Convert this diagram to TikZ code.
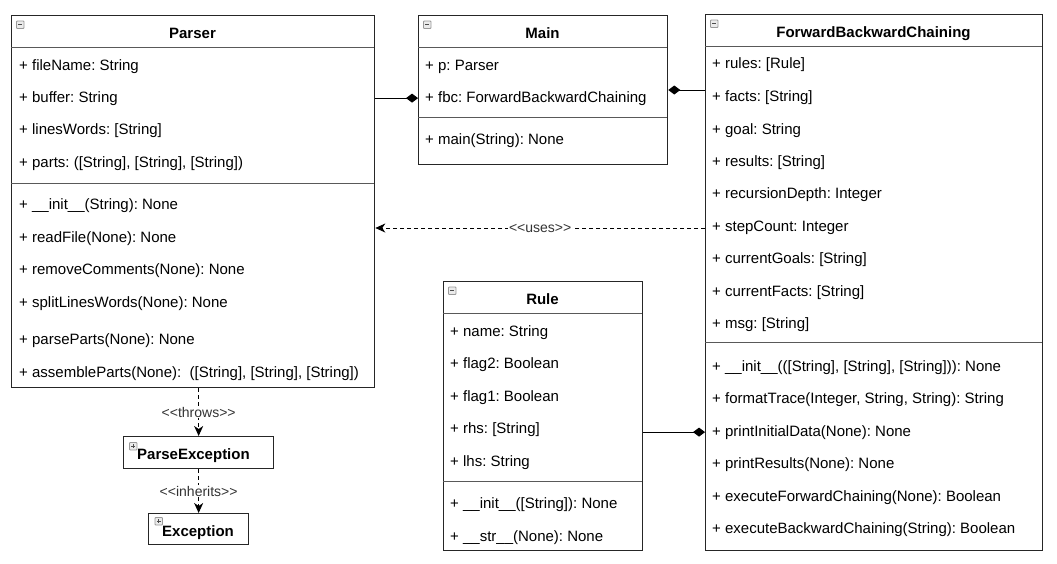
\documentclass[tikz,border=0pt]{standalone}
\usepackage{fontspec}
\setmainfont{Liberation Sans}
\usetikzlibrary{arrows.meta}
% guillemet-free stereotype brackets
\newcommand{\stereo}[1]{<\kern0pt<#1>\kern0pt>}
\begin{document}
\frenchspacing
\begin{tikzpicture}[x=1pt,y=-1pt,
  classbox/.style={draw=black!85, line width=1.3pt, fill=white, rectangle, inner sep=0pt, anchor=north west},
  divider/.style={draw=black!65, line width=1pt},
  row/.style={anchor=base west, inner sep=0pt, yshift=-6pt, font=\fontsize{15}{18}\selectfont},
  title/.style={anchor=base, inner sep=0pt, yshift=-6pt, font=\fontsize{15}{18}\selectfont\bfseries},
  lbl/.style={fill=white, inner sep=1pt, text=black!80, font=\fontsize{14}{16}\selectfont},
  dep/.style={draw=black, line width=1pt, dash pattern=on 4pt off 3pt, -{Stealth[length=10pt,width=9pt,inset=3pt]}},
  comp/.style={draw=black, line width=1pt, -{Diamond[length=12pt,width=9pt]}},
  minusicon/.pic={
    \draw[draw=black!40, fill=black!8, line width=0.8pt, rounded corners=0.8pt] (0,0) rectangle (7.5,7.5);
    \draw[black!70, line width=1.1pt] (1.8,3.75) -- (5.7,3.75);},
  plusicon/.pic={
    \draw[draw=black!40, fill=black!8, line width=0.8pt, rounded corners=0.8pt] (0,0) rectangle (7.5,7.5);
    \draw[black!70, line width=1.1pt] (1.8,3.75) -- (5.7,3.75) (3.75,1.8) -- (3.75,5.7);},
]
\useasboundingbox (0,0) rectangle (1057,563);

% ---------- class boxes ----------
\node[classbox, minimum width=363pt, minimum height=372pt] (parser) at (11,15) {};
\node[classbox, minimum width=249pt, minimum height=149pt] (main) at (418,15) {};
\node[classbox, minimum width=337pt, minimum height=536pt] (fbc) at (705,14) {};
\node[classbox, minimum width=199pt, minimum height=269pt] (rule) at (443,281) {};
\node[classbox, minimum width=150pt, minimum height=32pt] (pexc) at (123,436) {};
\node[classbox, minimum width=100pt, minimum height=31pt] (exc) at (148,513) {};

% ---------- compartment dividers ----------
\draw[divider] (11,47) -- (374,47) (11,183) -- (374,183);
\draw[divider] (418,47) -- (667,47) (418,117) -- (667,117);
\draw[divider] (705,46) -- (1042,46) (705,342) -- (1042,342);
\draw[divider] (443,313) -- (642,313) (443,481) -- (642,481);

% ---------- collapse / expand icons ----------
\pic at (16.5,21) {minusicon};
\pic at (423.5,21) {minusicon};
\pic at (710.5,20) {minusicon};
\pic at (448.5,287) {minusicon};
\pic at (129.5,442.5) {plusicon};
\pic at (155,517.5) {plusicon};

% ---------- Parser ----------
\node[title] (pt) at (192.5,32) {Parser};
\node[row] (p1) at (19,64) {+ fileName: String};
\node[row] (p2) at (19,96) {+ buffer: String};
\node[row] (p3) at (19,128) {+ linesWords: [String]};
\node[row] (p4) at (19,161) {+ parts: ([String], [String], [String])};
\node[row] (p5) at (19,203) {+ \_\_init\_\_(String): None};
\node[row] (p6) at (19,236) {+ readFile(None): None};
\node[row] (p7) at (19,268) {+ removeComments(None): None};
\node[row] (p8) at (19,301) {+ splitLinesWords(None): None};
\node[row] (p9) at (19,338) {+ parseParts(None): None};
\node[row] (p10) at (19,371) {+ assembleParts(None):\ \ ([String], [String], [String])};

% ---------- Main ----------
\node[title] (mt) at (542.5,32) {Main};
\node[row] (m1) at (425,64) {+ p: Parser};
\node[row] (m2) at (425,96) {+ fbc: ForwardBackwardChaining};
\node[row] (m3) at (425,138) {+ main(String): None};

% ---------- ForwardBackwardChaining ----------
\node[title] (ft) at (873.5,31) {ForwardBackwardChaining};
\node[row] (f1) at (712,62) {+ rules: [Rule]};
\node[row] (f2) at (712,95) {+ facts: [String]};
\node[row] (f3) at (712,128) {+ goal: String};
\node[row] (f4) at (712,160) {+ results: [String]};
\node[row] (f5) at (712,192) {+ recursionDepth: Integer};
\node[row] (f6) at (712,225) {+ stepCount: Integer};
\node[row] (f7) at (712,257) {+ currentGoals: [String]};
\node[row] (f8) at (712,290) {+ currentFacts: [String]};
\node[row] (f9) at (712,322) {+ msg: [String]};
\node[row] (f10) at (712,365) {+ \_\_init\_\_(([String], [String], [String])): None};
\node[row] (f11) at (712,397) {+ formatTrace(Integer, String, String): String};
\node[row] (f12) at (712,430) {+ printInitialData(None): None};
\node[row] (f13) at (712,462) {+ printResults(None): None};
\node[row] (f14) at (712,495) {+ executeForwardChaining(None): Boolean};
\node[row] (f15) at (712,527) {+ executeBackwardChaining(String): Boolean};

% ---------- Rule ----------
\node[title] (rt) at (542.5,298) {Rule};
\node[row] (r1) at (450,330) {+ name: String};
\node[row] (r2) at (450,362) {+ flag2: Boolean};
\node[row] (r3) at (450,395) {+ flag1: Boolean};
\node[row] (r4) at (450,427) {+ rhs: [String]};
\node[row] (r5) at (450,460) {+ lhs: String};
\node[row] (r6) at (450,502) {+ \_\_init\_\_([String]): None};
\node[row] (r7) at (450,535) {+ \_\_str\_\_(None): None};

% ---------- exceptions ----------
\node[anchor=base west, inner sep=0pt, font=\fontsize{15}{18}\selectfont\bfseries] (pet) at (137,459.5) {ParseException};
\node[anchor=base west, inner sep=0pt, font=\fontsize{15}{18}\selectfont\bfseries] (ext) at (162,536) {Exception};

% ---------- connectors ----------
\coordinate (mainfbc) at (686,90);
\coordinate (usesrow) at (540,228);
\draw[comp] (parser.east |- m2) -- (main.west |- m2);
\draw[comp] (fbc.west |- mainfbc) -- (main.east |- mainfbc);
\draw[comp] (rule.east |- f12) -- (fbc.west |- f12);
\draw[dep] (fbc.west |- usesrow) -- node[lbl] {\stereo{uses}} (parser.east |- usesrow);
\draw[dep] (pexc.north |- parser.south) -- node[lbl] {\stereo{throws}} (pexc.north);
\draw[dep] (pexc.south) -- node[lbl] {\stereo{inherits}} (exc.north);
\end{tikzpicture}
\end{document}
